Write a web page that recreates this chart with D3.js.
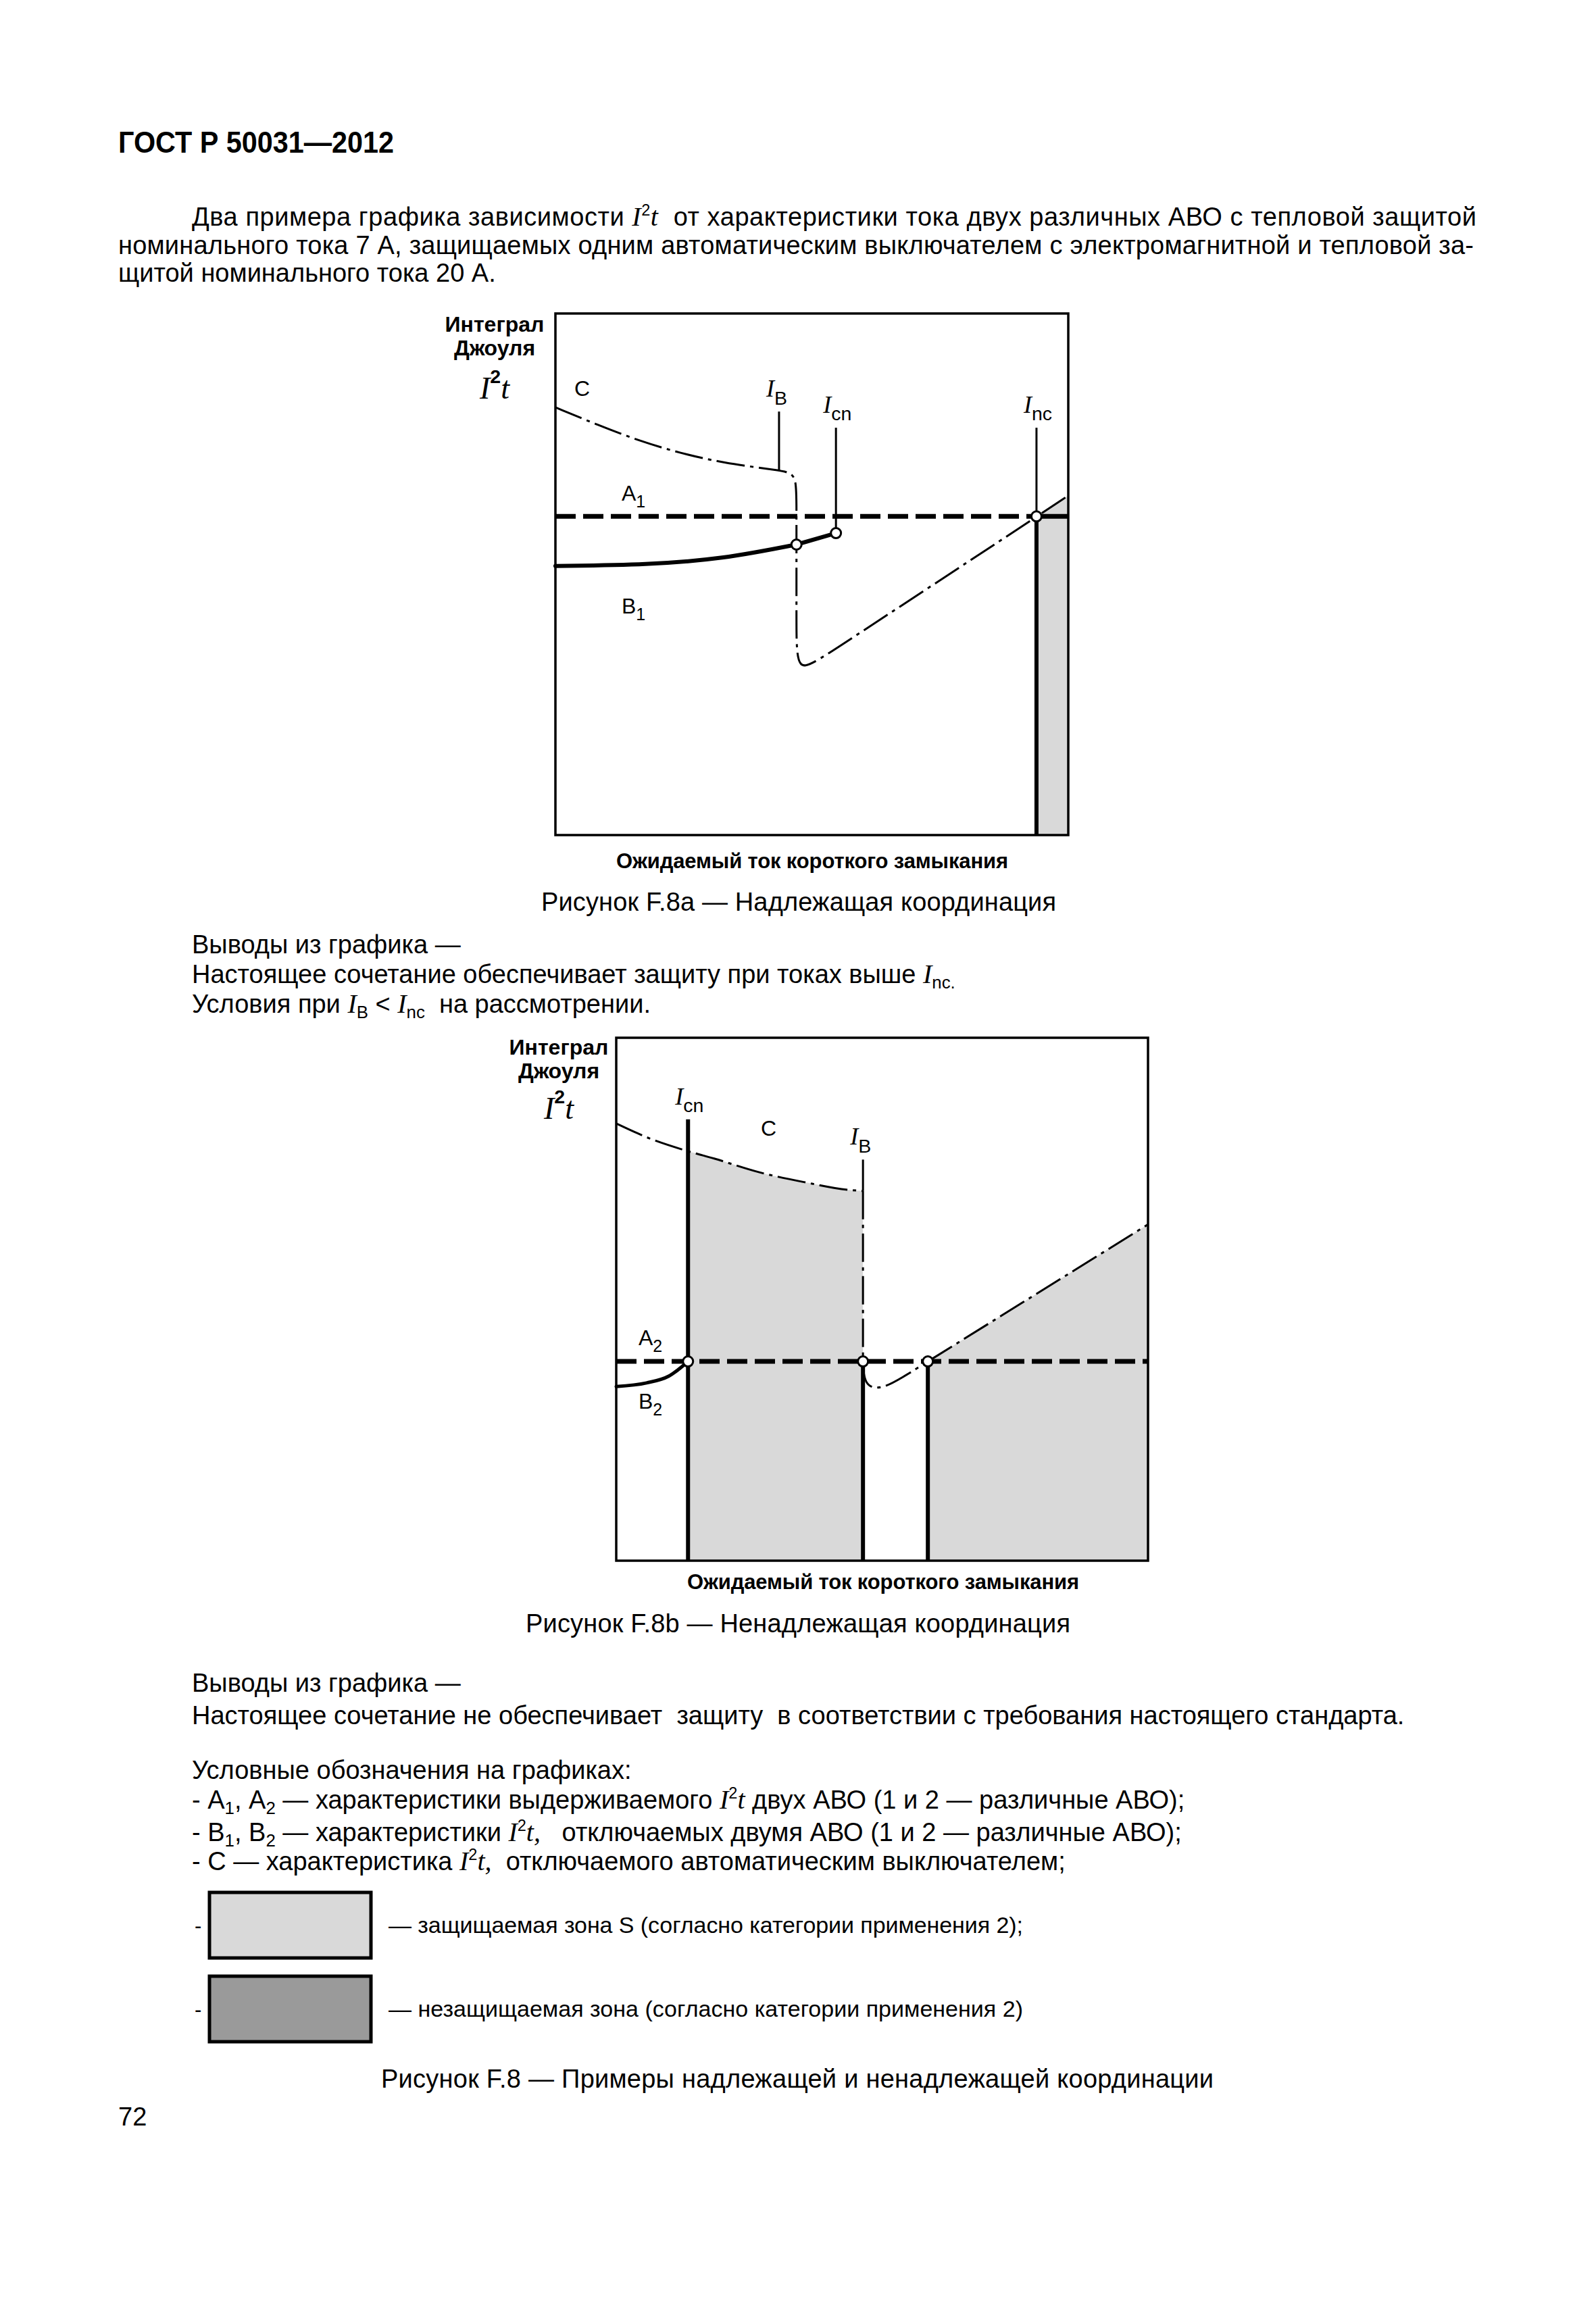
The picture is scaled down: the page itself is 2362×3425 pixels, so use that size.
<!DOCTYPE html>
<html><head><meta charset="utf-8">
<script src="https://cdn.jsdelivr.net/npm/d3@7"></script>
<style>
body{margin:0;background:#fff;}
svg text{white-space:pre;}
</style></head><body>
<svg id="page" width="2362" height="3425"></svg>
<script>
// ================= DATA =================
// Relative units: x = prospective short-circuit current (0..100), y = I²t (0..100)

// ---- Figure F.8a ----
const a_C      = [[0,82.0],[8.3,78.6],[16.3,75.6],[24.4,73.2],[32.5,71.4],[43.6,69.9],[47.0,69.4],[47.0,64],[47.0,40],[47.0,30.8],[52.0,34.0],[93.8,61.0],[100,65.1]];
const a_B      = [[0,51.6],[16.3,51.9],[32.5,53.2],[47.0,55.7]];
const a_Btail  = [[47.0,55.7],[54.7,57.9]];
const a_A      = 61.1;
const a_marks  = [{name:"B", x:43.6, top:81.2, bottom:69.9},{name:"cn", x:54.7, top:78.1, bottom:57.9},{name:"nc", x:93.8, top:78.1, bottom:61.1}];
const a_points = [[47.0,55.7],[54.7,57.9],[93.8,61.1]];
const a_zone   = [[93.8,61.1],[100,65.1]];

// ---- Figure F.8b ----
const b_C      = [[0,83.6],[6.4,80.7],[13.5,78.3],[18.4,76.9],[26.8,74.3],[35.3,72.4],[43.8,70.9],[46.4,70.7]];
const b_Cdrop  = [[46.4,70.7],[46.4,38.1]];
const b_Cdip   = [[46.4,38.1],[46.6,33.6],[49.5,32.6],[53.8,35.0],[58.6,38.1]];
const b_Crise  = [[58.6,38.1],[100,64.3]];
const b_B      = [[0,33.3],[5.7,34.0],[9.9,35.3],[13.5,38.1]];
const b_A      = 38.1;
const b_marks  = [{name:"cn", x:13.5, top:84.4, bottom:0},{name:"B", x:46.4, top:76.7, bottom:70.7}];
const b_thick  = [46.4, 58.6];
const b_points = [[13.5,38.1],[46.4,38.1],[58.6,38.1]];
const b_zone1  = [[13.5,78.3],[18.4,76.9],[26.8,74.3],[35.3,72.4],[43.8,70.9],[46.4,70.7]];
const b_zone2  = [[58.6,38.1],[100,64.3]];

// ---- Texts ----
const headerText = "ГОСТ Р 50031—2012";
const introLines = [
  [["Два примера графика зависимости ","n"],["I","I"],["2","sup"],["t","it"],["  от характеристики тока двух различных АВО с тепловой защитой","n"]],
  [["номинального тока 7 А, защищаемых одним автоматическим выключателем с электромагнитной и тепловой за-","n"]],
  [["щитой номинального тока 20 А.","n"]]
];
const conclA = [
  [["Выводы из графика —","n"]],
  [["Настоящее сочетание обеспечивает защиту при токах выше ","n"],["I","I"],["nc.","sub"]],
  [["Условия при ","n"],["I","I"],["B","sub"],[" < ","n"],["I","I"],["nc","sub"],["  на рассмотрении.","n"]]
];
const conclB = [
  [["Выводы из графика —","n"]],
  [["Настоящее сочетание не обеспечивает  защиту  в соответствии с требования настоящего стандарта.","n"]]
];
const legendLines = [
  [["Условные обозначения на графиках:","n"]],
  [["- А","n"],["1","sub"],[", А","n"],["2","sub"],[" — характеристики выдерживаемого ","n"],["I","I"],["2","sup"],["t","it"],[" двух АВО (1 и 2 — различные АВО);","n"]],
  [["- В","n"],["1","sub"],[", В","n"],["2","sub"],[" — характеристики ","n"],["I","I"],["2","sup"],["t,","it"],["   отключаемых двумя АВО (1 и 2 — различные АВО);","n"]],
  [["- С — характеристика ","n"],["I","I"],["2","sup"],["t,","it"],["  отключаемого автоматическим выключателем;","n"]]
];
const zoneLabels = ["— защищаемая зона S (согласно категории применения 2);","— незащищаемая зона (согласно категории применения 2)"];
const zoneColors = ["#d9d9d9","#9a9a9a"];
const captions = ["Рисунок F.8a — Надлежащая координация","Рисунок F.8b — Ненадлежащая координация","Рисунок F.8 — Примеры надлежащей и ненадлежащей координации"];
const xLabel = "Ожидаемый ток короткого замыкания";
const yLabel = ["Интеграл","Джоуля"];
const pageNo = "72";

// ================= DRAWING =================
const svg = d3.select("#page");
svg.append("rect").attr("width",2362).attr("height",3425).attr("fill","#fff");
const SANS = "'Liberation Sans', Arial, sans-serif";
const SERIF = "'Liberation Serif', 'Times New Roman', serif";
const BODY = 38;

function rich(g, x, y, segs, o) {
  const t = g.append("text").attr("x", x).attr("y", y)
    .attr("font-family", SANS).attr("font-size", o.size)
    .attr("font-weight", o.weight || "normal")
    .attr("text-anchor", o.anchor || "start").attr("fill", "#000");
  let shift = 0;
  segs.forEach(([txt, st]) => {
    const s = t.append("tspan").text(txt);
    let target = 0;
    if (st === "I" || st === "it") s.attr("font-family", SERIF).attr("font-style", "italic").attr("font-weight","normal").attr("font-size", o.size * (o.iScale || 1.05));
    if (st === "sub") { target = o.size * (o.subShift || 0.2); s.attr("font-size", o.size * (o.subScale || 0.68)).attr("font-weight","normal"); }
    if (st === "sup") { target = -o.size * (o.supShift || 0.4); s.attr("font-size", o.size * (o.supScale || 0.62)).attr("font-weight", o.supWeight || "normal"); }
    if (target !== shift) { s.attr("dy", target - shift); shift = target; }
  });
  if (o.len) t.attr("textLength", o.len).attr("lengthAdjust", o.adjust || "spacing");
  return t;
}

// header + intro
rich(svg, 175, 226, [[headerText,"n"]], {size:45, weight:"bold", len:408, adjust:"spacingAndGlyphs"});
const introX = [284,175,175], introY = [334,376,417], introLen = [1901,2006,null];
introLines.forEach((l,i)=> rich(svg, introX[i], introY[i], l, {size:BODY, len:introLen[i]}));

function drawChart(cfg) {
  const g = svg.append("g");
  const x = d3.scaleLinear([0,100],[cfg.box[0],cfg.box[2]]);
  const y = d3.scaleLinear([0,100],[cfg.box[3],cfg.box[1]]);
  const line = (curve) => d3.line().x(d=>x(d[0])).y(d=>y(d[1])).curve(curve);
  const area = (curve) => d3.area().x(d=>x(d[0])).y0(y(0)).y1(d=>y(d[1])).curve(curve);
  // zones
  cfg.zones.forEach(z => g.append("path").attr("d", area(z.curve)(z.data)).attr("fill","#d9d9d9"));
  // C curve segments
  const dash = "42,8,5,8";
  cfg.C.forEach(seg => g.append("path").attr("d", line(seg.curve)(seg.data)).attr("fill","none")
      .attr("stroke","#000").attr("stroke-width",3).attr("stroke-dasharray", dash));
  // A line (dashed)
  g.append("line").attr("x1",x(0)).attr("x2",x(cfg.Aend)).attr("y1",y(cfg.A)).attr("y2",y(cfg.A))
    .attr("stroke","#000").attr("stroke-width",7).attr("stroke-dasharray","30,11");
  if (cfg.Aend < 100) g.append("line").attr("x1",x(cfg.Aend)).attr("x2",x(100)).attr("y1",y(cfg.A)).attr("y2",y(cfg.A))
    .attr("stroke","#000").attr("stroke-width",7);
  // B curve
  cfg.B.forEach(seg => g.append("path").attr("d", line(seg.curve)(seg.data)).attr("fill","none")
      .attr("stroke","#000").attr("stroke-width",seg.w).attr("stroke-linecap","round"));
  // thick verticals
  cfg.thick.forEach(v => g.append("line").attr("x1",x(v[0])).attr("x2",x(v[0])).attr("y1",y(v[1])).attr("y2",y(v[2]))
      .attr("stroke","#000").attr("stroke-width",6));
  // marker lines + labels
  cfg.marks.forEach(m => {
    g.append("line").attr("x1",x(m.x)).attr("x2",x(m.x)).attr("y1",y(m.top)).attr("y2",y(m.bottom))
      .attr("stroke","#000").attr("stroke-width", m.bottom === 0 ? 6 : 3);
    rich(g, x(m.x) - 19, y(m.top) - 22, [["I","I"],[m.name,"sub"]], {size:30, iScale:1.2, subScale:0.95, subShift:0.38});
  });
  // box
  g.append("rect").attr("x",cfg.box[0]).attr("y",cfg.box[1]).attr("width",cfg.box[2]-cfg.box[0]).attr("height",cfg.box[3]-cfg.box[1])
    .attr("fill","none").attr("stroke","#000").attr("stroke-width",3.5);
  // points
  cfg.points.forEach(p => g.append("circle").attr("cx",x(p[0])).attr("cy",y(p[1])).attr("r",7.5)
    .attr("fill","#fff").attr("stroke","#000").attr("stroke-width",3));
  // curve labels
  cfg.labels.forEach(l => rich(g, l.x, l.y, l.segs, {size:32, subScale:0.78, subShift:0.3}));
  // axis labels
  rich(g, cfg.ylx, cfg.yly[0], [[yLabel[0],"n"]], {size:32, weight:"bold", anchor:"middle"});
  rich(g, cfg.ylx, cfg.yly[1], [[yLabel[1],"n"]], {size:32, weight:"bold", anchor:"middle"});
  rich(g, cfg.ylx, cfg.yly[2], [["I","I"],["2","sup"],["t","it"]], {size:46, weight:"bold", anchor:"middle", iScale:1.0, supScale:0.62, supShift:0.5, supWeight:"bold"});
  rich(g, cfg.xlx, cfg.xly, [[xLabel,"n"]], {size:31, weight:"bold", anchor:"middle", len:580});
  rich(g, cfg.capx, cfg.capy, [[cfg.caption,"n"]], {size:BODY, anchor:"middle", len:cfg.caplen});
}

drawChart({
  box:[822,464,1581,1236],
  zones:[{data:a_zone, curve:d3.curveLinear}],
  C:[{data:a_C, curve:d3.curveBasis}],
  A:a_A, Aend:a_marks[2].x,
  B:[{data:a_B, curve:d3.curveMonotoneX, w:6},{data:a_Btail, curve:d3.curveLinear, w:6}],
  thick:[[a_marks[2].x, a_A, 0]],
  marks:a_marks, points:a_points,
  labels:[
    {x:850, y:586, segs:[["C","n"]]},
    {x:920, y:741, segs:[["A","n"],["1","sub"]]},
    {x:920, y:908, segs:[["B","n"],["1","sub"]]}
  ],
  ylx:732, yly:[491,526,590],
  xlx:1202, xly:1285,
  caption:captions[0], capx:1182, capy:1348, caplen:762
});

rich(svg, 284, 1411, conclA[0], {size:BODY});
rich(svg, 284, 1455, conclA[1], {size:BODY});
rich(svg, 284, 1499, conclA[2], {size:BODY});

drawChart({
  box:[912,1536,1699,2310],
  zones:[{data:b_zone1, curve:d3.curveMonotoneX},{data:b_zone2, curve:d3.curveLinear}],
  C:[{data:b_C, curve:d3.curveMonotoneX},{data:b_Cdrop, curve:d3.curveLinear},{data:b_Cdip, curve:d3.curveBasis},{data:b_Crise, curve:d3.curveLinear}],
  A:b_A, Aend:100,
  B:[{data:b_B, curve:d3.curveMonotoneX, w:5}],
  thick:[[b_thick[0], b_A, 0],[b_thick[1], b_A, 0]],
  marks:b_marks, points:b_points,
  labels:[
    {x:1126, y:1681, segs:[["C","n"]]},
    {x:945, y:1991, segs:[["A","n"],["2","sub"]]},
    {x:945, y:2085, segs:[["B","n"],["2","sub"]]}
  ],
  ylx:827, yly:[1561,1596,1656],
  xlx:1307, xly:2352,
  caption:captions[1], capx:1181, capy:2416, caplen:806
});

rich(svg, 284, 2504, conclB[0], {size:BODY});
rich(svg, 284, 2552, conclB[1], {size:BODY});
const legY = [2633,2677,2725,2768];
legendLines.forEach((l,i)=> rich(svg, 284, legY[i], l, {size:BODY}));

// zone legend
const zoneY = [2799, 2923];
zoneLabels.forEach((lab,i) => {
  svg.append("rect").attr("x",310).attr("y",zoneY[i]+2).attr("width",239).attr("height",97)
    .attr("fill",zoneColors[i]).attr("stroke","#000").attr("stroke-width",5);
  rich(svg, 288, zoneY[i]+62, [["-","n"]], {size:31});
  rich(svg, 575, zoneY[i]+62, [[lab,"n"]], {size:34, len:939});
});

rich(svg, 1180, 3090, [[captions[2],"n"]], {size:BODY, anchor:"middle", len:1232});
rich(svg, 175, 3146, [[pageNo,"n"]], {size:BODY});
</script>
</body></html>
